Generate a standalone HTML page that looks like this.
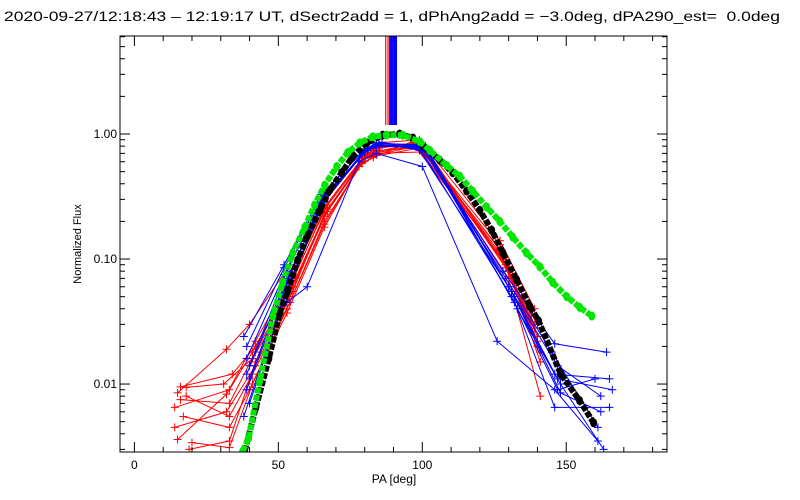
<!DOCTYPE html>
<html><head><meta charset="utf-8"><style>
body{margin:0;background:#fff;}
svg{display:block;font-family:"Liberation Sans",sans-serif;}
</style></head><body>
<svg id="chart" width="800" height="500" viewBox="0 0 800 500" xmlns="http://www.w3.org/2000/svg">
<rect x="0" y="0" width="800" height="500" fill="#fff"/>
<text x="4" y="21" font-size="14" textLength="776" lengthAdjust="spacingAndGlyphs" xml:space="preserve">2020-09-27/12:18:43 – 12:19:17 UT, dSectr2add = 1, dPhAng2add = −3.0deg, dPA290_est=&#160; 0.0deg</text>
<text x="0" y="0" font-size="11" text-anchor="middle" transform="translate(81,244) rotate(-90)">Normalized Flux</text>
<text x="394" y="483" font-size="12" text-anchor="middle">PA [deg]</text>
<g id="plot"></g>
</svg>
<script>
const xTicks=[0,50,100,150];
const yTicks=[0.01,0.1,1];
const yTickLabels=["0.01","0.10","1.00"];
const redPeaks=[87.3,88.1];
const bluePeaks=[88.7,89.1,89.5,89.9,90.3,90.7,91.0];
const blackPA=[38.3,42.2,46.7,50.5,53.3,56.7,60.2,64.4,67.8,72.0,75.8,80.7,86.3,92.1,96.7,100.2,106.0,110.6,115.4,120.0,124.1,128.0,132.8,137.3,140.4,148.1,154.6,159.5];
const blackFlux=[0.0029,0.0065,0.016,0.037,0.056,0.098,0.155,0.245,0.355,0.49,0.66,0.85,0.98,1.0,0.93,0.81,0.62,0.49,0.35,0.245,0.17,0.112,0.068,0.042,0.032,0.012,0.0074,0.0049];
const greenPA=[37.6,39.7,43.5,48.1,51.5,55.0,59.2,62.6,66.1,70.3,74.1,78.3,82.8,87.6,93.2,99.1,102.6,108.5,113.0,117.5,122.4,126.9,131.4,136.2,140.8,145.3,150.2,154.7,158.9];
const greenFlux=[0.0029,0.0037,0.0105,0.035,0.065,0.112,0.18,0.27,0.39,0.55,0.71,0.85,0.95,0.98,0.98,0.87,0.74,0.56,0.46,0.35,0.26,0.2,0.15,0.112,0.087,0.065,0.05,0.041,0.035];
const redSeries=[
[[14,0.0065],[33,0.009],[41,0.018],[54,0.06],[66,0.25],[79,0.62],[84,0.72],[98,0.85],[126,0.12],[139,0.03]],
[[16,0.0095],[34,0.012],[42,0.02],[55,0.07],[67,0.27],[80,0.66],[84,0.78],[97,0.82],[128,0.1],[140,0.024]],
[[18,0.008],[33,0.0055],[41,0.012],[54,0.045],[66,0.2],[79,0.58],[83,0.66],[100,0.78],[129,0.085],[141,0.018]],
[[15,0.0036],[32,0.0083],[42,0.022],[55,0.075],[66,0.26],[80,0.68],[85,0.8],[99,0.8],[127,0.13],[138,0.035]],
[[17,0.0055],[33,0.0045],[40,0.009],[53,0.04],[66,0.19],[79,0.6],[83,0.7],[101,0.72],[130,0.07],[141,0.008]],
[[19,0.003],[33,0.0035],[42,0.015],[55,0.06],[67,0.24],[80,0.64],[84,0.76],[98,0.86],[128,0.11],[140,0.02]],
[[15,0.0085],[32,0.019],[40,0.03],[54,0.09],[65,0.3],[80,0.7],[85,0.85],[99,0.9],[127,0.14],[139,0.04]],
[[16,0.0075],[33,0.007],[42,0.018],[56,0.07],[67,0.25],[79,0.6],[83,0.7],[100,0.83],[129,0.09],[140,0.022]],
[[18,0.0094],[31,0.01],[41,0.016],[54,0.05],[66,0.22],[79,0.62],[84,0.68],[98,0.8],[128,0.1],[139,0.028]],
[[14,0.0045],[32,0.006],[42,0.014],[55,0.055],[66,0.23],[80,0.65],[84,0.74],[101,0.78],[130,0.08],[141,0.015]],
[[20,0.0034],[33,0.0031],[41,0.01],[53,0.037],[66,0.18],[78,0.55],[83,0.65],[97,0.88],[127,0.12],[140,0.03]]
];
const blueSeries=[
[[38,0.024],[52,0.09],[65,0.33],[80,0.75],[84,0.85],[100,0.8],[128,0.08],[146,0.021],[164,0.018]],
[[39,0.012],[53,0.07],[66,0.3],[80,0.72],[86,0.82],[101,0.75],[130,0.06],[147,0.014],[162,0.008]],
[[40,0.011],[52,0.06],[65,0.28],[80,0.74],[84,0.8],[99,0.78],[131,0.05],[147,0.009],[160,0.011]],
[[39,0.009],[53,0.065],[66,0.32],[81,0.76],[85,0.84],[100,0.82],[132,0.045],[146,0.0065],[165,0.0065]],
[[38,0.0055],[52,0.05],[65,0.27],[80,0.72],[86,0.86],[102,0.72],[133,0.04],[148,0.01],[163,0.003]],
[[40,0.014],[53,0.08],[66,0.34],[80,0.76],[84,0.83],[100,0.76],[129,0.07],[145,0.018],[161,0.0045]],
[[39,0.02],[52,0.085],[65,0.31],[81,0.74],[85,0.8],[101,0.8],[130,0.06],[146,0.012],[165,0.011]],
[[40,0.007],[53,0.055],[66,0.29],[80,0.73],[86,0.85],[99,0.74],[131,0.055],[148,0.0085],[162,0.006]],
[[53,0.045],[60,0.06],[78,0.6],[84,0.7],[100,0.55],[126,0.022],[146,0.009],[161,0.0035]],
[[39,0.016],[52,0.075],[66,0.3],[80,0.74],[85,0.82],[101,0.78],[132,0.05],[147,0.011],[166,0.009]]
];
const L=120,R=667,T=36,B=452;
const xMin=-5,xMax=185;
const yLogMin=Math.log10(0.00286),yLogMax=0.784;
function sx(v){return L+(v-xMin)/(xMax-xMin)*(R-L);}
function sy(v){return B-(Math.log10(v)-yLogMin)/(yLogMax-yLogMin)*(B-T);}
const NS="http://www.w3.org/2000/svg";
const g=document.getElementById('plot');
function mk(tag,attrs,parent){const e=document.createElementNS(NS,tag);for(const k in attrs)e.setAttribute(k,attrs[k]);(parent||g).appendChild(e);return e;}
const defs=mk('defs',{});
const cp=mk('clipPath',{id:'clip'},defs);
mk('rect',{x:L,y:T,width:R-L,height:B-T},cp);
const data=mk('g',{'clip-path':'url(#clip)'});


function plus(x,y,col,parent){
  return mk('path',{d:`M${x-4},${y}H${x+4}M${x},${y-4}V${y+4}`,stroke:col,'stroke-width':1,fill:'none'},parent);
}
redSeries.forEach((s,i)=>{
  const grp=mk('g',{},data);
  
  
  mk('polyline',{points:s.map(p=>sx(p[0])+','+sy(p[1])).join(' '),fill:'none',stroke:'#ff0000','stroke-width':1},grp);
  s.forEach(p=>plus(sx(p[0]),sy(p[1]),'#ff0000',grp));
});
blueSeries.forEach((s,i)=>{
  const grp=mk('g',{},data);
  
  
  mk('polyline',{points:s.map(p=>sx(p[0])+','+sy(p[1])).join(' '),fill:'none',stroke:'#0000ff','stroke-width':1},grp);
  s.forEach(p=>plus(sx(p[0]),sy(p[1]),'#0000ff',grp));
});
function dotCurve(pa,fl,col,name){
  const grp=mk('g',{},data);
  
  
  mk('polyline',{points:pa.map((p,i)=>sx(p)+','+sy(fl[i])).join(' '),fill:'none',stroke:col,'stroke-width':6,'stroke-dasharray':'6 1.5','stroke-linecap':'butt','stroke-linejoin':'round'},grp);
  pa.forEach((p,i)=>mk('ellipse',{cx:sx(p),cy:sy(fl[i]),rx:3.5,ry:4.5,fill:col},grp));
}
dotCurve(blackPA,blackFlux,'#000000','black-model-curve');
dotCurve(greenPA,greenFlux,'#00e600','green-model-curve');
redPeaks.forEach(p=>{
  const l=mk('line',{x1:sx(p),x2:sx(p),y1:T,y2:sy(1.18),stroke:'#ff0000','stroke-width':1.2},data);
  
  
});
bluePeaks.forEach(p=>{
  const l=mk('line',{x1:sx(p),x2:sx(p),y1:T,y2:sy(1.18),stroke:'#0000ff','stroke-width':1.3},data);
  
  
});
const box=mk('rect',{x:L,y:T,width:R-L,height:B-T,fill:'none',stroke:'#000','stroke-width':1});


for(let v=0;v<=180;v+=10){
  const major=v%50===0;const len=major?10:5;
  mk('line',{x1:sx(v),x2:sx(v),y1:B,y2:B-len,stroke:'#000'});
  mk('line',{x1:sx(v),x2:sx(v),y1:T,y2:T+len,stroke:'#000'});
}
xTicks.forEach(v=>{
  const t=mk('text',{x:sx(v),y:B+17,'font-size':12,'text-anchor':'middle'});
  t.textContent=String(v);
  
  
});
for(let d=-3;d<=0;d++){
  for(let m=1;m<=9;m++){
    const v=m*Math.pow(10,d);
    const y=sy(v);
    if(y<T-0.5||y>B+0.5)continue;
    const len=m===1?10:5;
    mk('line',{x1:L,x2:L+len,y1:y,y2:y,stroke:'#000'});
    mk('line',{x1:R,x2:R-len,y1:y,y2:y,stroke:'#000'});
  }
}
yTicks.forEach((v,i)=>{
  const t=mk('text',{x:L-3,y:sy(v)+4,'font-size':12,'text-anchor':'end'});
  t.textContent=yTickLabels[i];
  
  
});
</script>
</body></html>
